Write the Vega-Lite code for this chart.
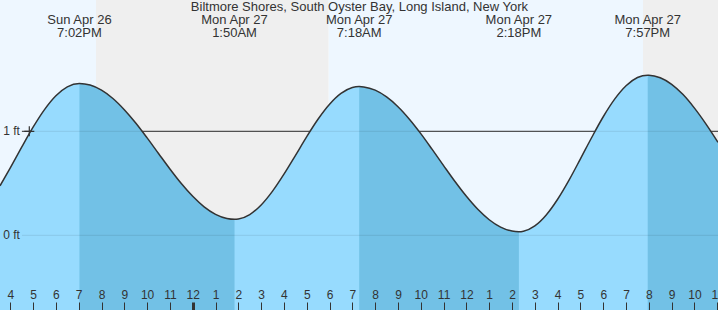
{
  "$schema": "https://vega.github.io/schema/vega-lite/v6.json",
  "width": 718,
  "height": 310,
  "autosize": {"type": "none"},
  "padding": 0,
  "background": "#ffffff",
  "config": {"view": {"stroke": null}, "font": "Liberation Sans"},
  "datasets": {
    "curve": [
      {"t": 15.549, "h": 0.476, "ebb": null},
      {"t": 16.0, "h": 0.649, "ebb": null},
      {"t": 16.5, "h": 0.848, "ebb": null},
      {"t": 17.0, "h": 1.040, "ebb": null},
      {"t": 17.5, "h": 1.209, "ebb": null},
      {"t": 18.0, "h": 1.342, "ebb": null},
      {"t": 18.5, "h": 1.428, "ebb": null},
      {"t": 19.033, "h": 1.46, "ebb": "B"},
      {"t": 19.5, "h": 1.445, "ebb": "B"},
      {"t": 20.0, "h": 1.396, "ebb": "B"},
      {"t": 20.5, "h": 1.316, "ebb": "B"},
      {"t": 21.0, "h": 1.208, "ebb": "B"},
      {"t": 21.5, "h": 1.080, "ebb": "B"},
      {"t": 22.0, "h": 0.937, "ebb": "B"},
      {"t": 22.5, "h": 0.787, "ebb": "B"},
      {"t": 23.0, "h": 0.638, "ebb": "B"},
      {"t": 23.5, "h": 0.498, "ebb": "B"},
      {"t": 24.0, "h": 0.375, "ebb": "B"},
      {"t": 24.5, "h": 0.274, "ebb": "B"},
      {"t": 25.0, "h": 0.202, "ebb": "B"},
      {"t": 25.5, "h": 0.162, "ebb": "B"},
      {"t": 25.833, "h": 0.154, "ebb": "B"},
      {"t": 26.0, "h": 0.157, "ebb": null},
      {"t": 26.5, "h": 0.200, "ebb": null},
      {"t": 27.0, "h": 0.292, "ebb": null},
      {"t": 27.5, "h": 0.425, "ebb": null},
      {"t": 28.0, "h": 0.588, "ebb": null},
      {"t": 28.5, "h": 0.767, "ebb": null},
      {"t": 29.0, "h": 0.949, "ebb": null},
      {"t": 29.5, "h": 1.118, "ebb": null},
      {"t": 30.0, "h": 1.260, "ebb": null},
      {"t": 30.5, "h": 1.364, "ebb": null},
      {"t": 31.0, "h": 1.421, "ebb": null},
      {"t": 31.3, "h": 1.43, "ebb": "D"},
      {"t": 31.5, "h": 1.427, "ebb": "D"},
      {"t": 32.0, "h": 1.396, "ebb": "D"},
      {"t": 32.5, "h": 1.331, "ebb": "D"},
      {"t": 33.0, "h": 1.237, "ebb": "D"},
      {"t": 33.5, "h": 1.117, "ebb": "D"},
      {"t": 34.0, "h": 0.978, "ebb": "D"},
      {"t": 34.5, "h": 0.826, "ebb": "D"},
      {"t": 35.0, "h": 0.670, "ebb": "D"},
      {"t": 35.5, "h": 0.517, "ebb": "D"},
      {"t": 36.0, "h": 0.375, "ebb": "D"},
      {"t": 36.5, "h": 0.250, "ebb": "D"},
      {"t": 37.0, "h": 0.150, "ebb": "D"},
      {"t": 37.5, "h": 0.079, "ebb": "D"},
      {"t": 38.0, "h": 0.041, "ebb": "D"},
      {"t": 38.3, "h": 0.035, "ebb": "D"},
      {"t": 38.5, "h": 0.040, "ebb": null},
      {"t": 39.0, "h": 0.091, "ebb": null},
      {"t": 39.5, "h": 0.196, "ebb": null},
      {"t": 40.0, "h": 0.347, "ebb": null},
      {"t": 40.5, "h": 0.531, "ebb": null},
      {"t": 41.0, "h": 0.735, "ebb": null},
      {"t": 41.5, "h": 0.943, "ebb": null},
      {"t": 42.0, "h": 1.140, "ebb": null},
      {"t": 42.5, "h": 1.309, "ebb": null},
      {"t": 43.0, "h": 1.438, "ebb": null},
      {"t": 43.5, "h": 1.517, "ebb": null},
      {"t": 43.95, "h": 1.54, "ebb": "F"},
      {"t": 44.0, "h": 1.5399, "ebb": "F"},
      {"t": 44.5, "h": 1.515, "ebb": "F"},
      {"t": 45.0, "h": 1.452, "ebb": "F"},
      {"t": 45.5, "h": 1.353, "ebb": "F"},
      {"t": 46.0, "h": 1.223, "ebb": "F"},
      {"t": 46.5, "h": 1.072, "ebb": "F"},
      {"t": 47.032, "h": 0.894, "ebb": "F"}
    ],
    "sky": [
      {"t": 15.549, "t2": 19.758, "kind": "day"},
      {"t": 19.758, "t2": 29.962, "kind": "night"},
      {"t": 29.962, "t2": 43.744, "kind": "day"},
      {"t": 43.744, "t2": 47.032, "kind": "night"}
    ],
    "levels": [
      {"v": 0, "t": 16.51, "t2": 47.032, "lab": "0 ft"},
      {"v": 1, "t": 16.51, "t2": 47.032, "lab": "1 ft"}
    ],
    "extremes": [
      {"t": 19.033, "lab": "Sun Apr 26\n7:02PM"},
      {"t": 25.833, "lab": "Mon Apr 27\n1:50AM"},
      {"t": 31.3, "lab": "Mon Apr 27\n7:18AM"},
      {"t": 38.3, "lab": "Mon Apr 27\n2:18PM"},
      {"t": 43.95, "lab": "Mon Apr 27\n7:57PM"}
    ],
    "now": [{"t": 16.834, "h": 1.0}],
    "heading": [{"t": 31.31, "lab": "Biltmore Shores, South Oyster Bay, Long Island, New York"}]
  },
  "encoding": {
    "x": {
      "field": "t", "type": "quantitative",
      "scale": {"domain": [15.549, 47.032], "nice": false, "zero": false},
      "axis": {
        "orient": "top", "offset": -310, "title": null, "zindex": 2,
        "values": [16,17,18,19,20,21,22,23,24,25,26,27,28,29,30,31,32,33,34,35,36,37,38,39,40,41,42,43,44,45,46,47],
        "labelExpr": "((datum.value + 11) % 12) + 1",
        "domain": false, "grid": false,
        "tickSize": 8, "tickColor": "#333333",
        "tickWidth": {"condition": {"test": "datum.value == 24", "value": 3}, "value": 1},
        "labelPadding": 1, "labelFont": "Liberation Sans", "labelFontSize": 12,
        "labelColor": "#333333", "labelFlush": false, "labelOverlap": false, "labelBound": false
      }
    }
  },
  "layer": [
    {
      "data": {"name": "sky"},
      "mark": {"type": "rect"},
      "encoding": {
        "x2": {"field": "t2"},
        "color": {
          "field": "kind", "type": "nominal",
          "scale": {"domain": ["day", "night"], "range": ["#eef7ff", "#efefef"]},
          "legend": null
        }
      }
    },
    {
      "data": {"name": "levels"},
      "transform": [{"filter": "datum.v == 1"}],
      "mark": {"type": "rule", "color": "#333333", "strokeWidth": 1},
      "encoding": {
        "x2": {"field": "t2"},
        "y": {"field": "v", "type": "quantitative", "scale": {"domain": [-0.718, 2.2625], "nice": false, "zero": false}, "axis": null}
      }
    },
    {
      "data": {"name": "curve"},
      "mark": {"type": "area", "color": "#97dbfe", "interpolate": "monotone"},
      "encoding": {
        "y": {"field": "h", "type": "quantitative", "axis": null},
        "y2": {"datum": -0.718}
      }
    },
    {
      "data": {"name": "curve"},
      "transform": [{"filter": "datum.ebb != null"}],
      "mark": {"type": "area", "color": "#72c1e6", "interpolate": "monotone"},
      "encoding": {
        "y": {"field": "h", "type": "quantitative", "axis": null},
        "y2": {"datum": -0.718},
        "detail": {"field": "ebb"}
      }
    },
    {
      "data": {"name": "levels"},
      "mark": {"type": "rule", "color": "#000000", "opacity": 0.09, "strokeWidth": 1},
      "encoding": {
        "x2": {"field": "t2"},
        "y": {"field": "v", "type": "quantitative", "axis": null}
      }
    },
    {
      "data": {"name": "curve"},
      "mark": {"type": "line", "color": "#333333", "strokeWidth": 1.5, "interpolate": "monotone"},
      "encoding": {
        "y": {"field": "h", "type": "quantitative", "axis": null}
      }
    },
    {
      "data": {"name": "now"},
      "mark": {"type": "point", "shape": "M-1,0H1M0,-1V1", "filled": false, "stroke": "#333333", "strokeWidth": 1.2, "size": 100, "opacity": 1},
      "encoding": {
        "y": {"field": "h", "type": "quantitative", "axis": null}
      }
    },
    {
      "data": {"name": "levels"},
      "mark": {"type": "text", "align": "right", "baseline": "middle", "dx": -2, "font": "Liberation Sans", "fontSize": 12, "color": "#333333"},
      "encoding": {
        "y": {"field": "v", "type": "quantitative", "axis": null},
        "text": {"field": "lab"}
      }
    },
    {
      "data": {"name": "extremes"},
      "mark": {"type": "text", "align": "center", "baseline": "alphabetic", "dy": 24, "lineBreak": "\n", "lineHeight": 13, "font": "Liberation Sans", "fontSize": 13, "color": "#333333"},
      "encoding": {
        "y": {"datum": 2.2625, "type": "quantitative", "axis": null},
        "text": {"field": "lab"}
      }
    },
    {
      "data": {"name": "heading"},
      "mark": {"type": "text", "align": "center", "baseline": "alphabetic", "dy": 11, "font": "Liberation Sans", "fontSize": 13, "color": "#333333"},
      "encoding": {
        "y": {"datum": 2.2625, "type": "quantitative", "axis": null},
        "text": {"field": "lab"}
      }
    }
  ]
}
